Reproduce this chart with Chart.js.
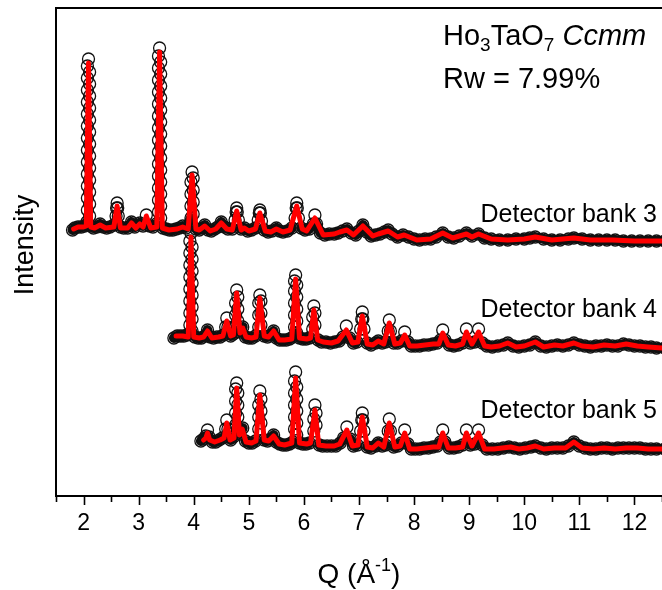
<!DOCTYPE html>
<html><head><meta charset="utf-8">
<script src="https://cdn.jsdelivr.net/npm/chart.js@4/dist/chart.umd.min.js"></script>
<style>html,body{margin:0;padding:0;background:#fff;}canvas{display:block}</style>
</head><body>
<canvas id="c" width="662" height="590"></canvas>
<script>
// ---- data (Q in 1/Å, intensity in arbitrary units above each bank's offset) ----
const xMajorTicks = [2,3,4,5,6,7,8,9,10,11,12];
const bankNames = ['Detector bank 3','Detector bank 4','Detector bank 5'];
const bankOffsets = [250,145,45];

const obs3 = [[1.80,16],[1.84,18],[1.90,19],[1.96,19],[2.02,20],[2.06,24],
[2.07,36],[2.07,48],[2.07,60],[2.07,72],[2.07,84],[2.07,96],[2.07,108],[2.07,120],[2.07,132],[2.07,144],[2.07,156],[2.07,168],[2.07,180],
[2.09,187],
[2.11,174],[2.11,162],[2.11,150],[2.11,138],[2.11,126],[2.11,114],[2.11,102],[2.11,90],[2.11,78],[2.11,66],[2.11,54],[2.11,42],[2.11,30],
[2.13,20],[2.18,18],[2.24,19],[2.30,22],[2.36,19],[2.42,18],[2.48,19],[2.55,21],
[2.59,30],[2.60,38],[2.61,43],[2.62,38],[2.63,30],
[2.67,19],[2.73,18],[2.80,18],[2.87,24],[2.93,19],[3.02,23],[3.08,20],[3.14,31],[3.20,20],[3.26,19],[3.32,22],
[3.36,34],[3.36,46],[3.36,58],[3.36,70],[3.36,82],[3.36,94],[3.36,106],[3.36,118],[3.36,130],[3.36,142],[3.36,154],[3.36,166],[3.36,178],[3.36,190],
[3.38,198],
[3.40,184],[3.40,172],[3.40,160],[3.40,148],[3.40,136],[3.40,124],[3.40,112],[3.40,100],[3.40,88],[3.40,76],[3.40,64],[3.40,52],[3.40,40],[3.40,28],
[3.44,18],[3.50,17],[3.56,16],[3.62,16],[3.68,17],[3.74,18],[3.80,20],[3.86,18],
[3.95,28],[3.95,40],[3.95,52],[3.95,64],[3.97,74],[3.99,68],[3.99,56],[3.99,44],[3.99,32],
[4.04,17],[4.10,16],[4.16,18],[4.20,21],[4.26,16],[4.32,15],[4.38,17],[4.44,19],[4.50,24],[4.56,19],[4.62,17],[4.70,17],
[4.75,26],[4.77,34],[4.78,38],[4.79,34],[4.81,26],
[4.86,17],[4.92,18],[4.98,15],[5.05,16],[5.12,18],
[5.17,26],[5.19,33],[5.20,36],[5.21,33],[5.23,25],
[5.28,16],[5.35,14],[5.42,15],[5.50,18],[5.56,15],[5.62,14],[5.70,15],[5.78,18],
[5.84,28],[5.86,38],[5.87,43],[5.88,38],[5.90,28],
[5.95,18],[6.02,16],[6.10,17],
[6.17,22],[6.20,31],[6.23,22],
[6.30,13],[6.38,11],[6.46,12],[6.55,12],[6.62,13],[6.70,15],[6.78,17],[6.86,13],[6.94,11],[7.00,15],[7.07,21],[7.14,14],[7.22,10],[7.30,11],[7.38,12],[7.46,14],[7.53,16],[7.60,12],[7.70,9],[7.80,11],[7.90,9],[8.00,7],[8.10,6],[8.20,7],[8.30,7],[8.40,9],[8.52,13],[8.62,9],[8.72,8],[8.82,10],[8.95,13],[9.05,10],[9.17,12],[9.28,8],[9.40,7],[9.55,6],[9.70,6],[9.85,7],[10.0,7],[10.1,8],[10.2,9],[10.35,7],[10.5,6],[10.65,6],[10.8,7],[10.9,8],[11.05,7],[11.2,6],[11.35,6],[11.5,6],[11.65,6],[11.8,5],[11.95,5],[12.1,5],[12.25,5],[12.4,5],[12.55,5]];

const calc3 = [[1.82,17],[1.90,19],[2.00,19],[2.05,20],[2.09,183],[2.13,19],[2.20,18],[2.30,21],[2.40,18],[2.55,19],[2.61,40],[2.67,18],[2.80,18],[2.87,23],[2.95,18],[3.02,22],[3.08,19],[3.14,30],[3.22,18],[3.33,19],[3.38,194],[3.43,18],[3.55,16],[3.70,17],[3.80,19],[3.90,17],[3.97,71],[4.04,17],[4.10,16],[4.20,20],[4.30,15],[4.40,17],[4.50,23],[4.60,17],[4.70,16],[4.78,35],[4.86,16],[4.92,18],[5.00,15],[5.12,17],[5.20,33],[5.30,15],[5.40,14],[5.50,17],[5.62,14],[5.75,16],[5.87,40],[5.97,17],[6.05,15],[6.20,28],[6.35,11],[6.55,12],[6.65,14],[6.78,16],[6.90,11],[7.07,20],[7.25,10],[7.35,12],[7.53,15],[7.70,9],[7.82,11],[8.05,6],[8.30,7],[8.52,13],[8.70,8],[8.95,12],[9.05,9],[9.17,12],[9.40,7],[9.70,6],[10.0,7],[10.2,9],[10.5,6],[10.9,8],[11.2,6],[11.6,6],[12.0,5],[12.5,5]];

const obs4 = [[3.64,13],[3.70,15],[3.76,15],[3.82,15],[3.88,16],
[3.93,26],[3.93,38],[3.93,50],[3.93,62],[3.93,74],[3.93,86],[3.93,98],[3.93,110],[3.95,118],[3.97,104],[3.97,92],[3.97,80],[3.97,68],[3.97,56],[3.97,44],[3.97,32],[3.97,20],
[4.02,14],[4.08,13],[4.14,13],[4.20,15],[4.25,21],[4.30,14],[4.36,13],[4.42,14],[4.48,14],[4.54,16],
[4.58,24],[4.60,33],[4.62,24],
[4.67,15],[4.72,17],
[4.76,24],[4.76,36],[4.76,48],[4.78,61],[4.80,54],[4.80,42],[4.80,30],
[4.84,19],[4.89,24],[4.94,14],[5.00,13],[5.06,13],[5.12,15],
[5.18,24],[5.18,36],[5.18,48],[5.20,56],[5.22,50],[5.22,38],[5.22,26],
[5.28,15],[5.34,14],[5.40,16],[5.45,20],[5.50,13],[5.56,11],[5.62,11],[5.68,11],[5.74,12],[5.80,14],
[5.83,24],[5.83,36],[5.83,48],[5.83,60],[5.83,70],[5.85,76],[5.87,66],[5.87,54],[5.87,42],[5.87,30],[5.87,18],
[5.92,13],[5.98,12],[6.04,12],[6.10,13],
[6.16,22],[6.16,34],[6.18,45],[6.20,38],[6.20,26],
[6.26,11],[6.32,9],[6.40,9],[6.48,8],[6.56,9],[6.64,10],[6.71,14],[6.77,25],[6.83,13],[6.90,8],[6.96,9],
[7.03,22],[7.05,32],[7.06,39],[7.07,32],[7.09,22],
[7.15,8],[7.22,6],[7.30,8],[7.35,10],[7.42,8],[7.48,9],
[7.53,20],[7.55,31],[7.57,20],
[7.63,8],[7.70,8],[7.77,10],[7.83,19],[7.89,9],[7.95,5],[8.02,5],[8.10,5],[8.18,6],[8.26,6],[8.34,7],[8.42,8],[8.48,11],[8.52,21],[8.56,11],[8.64,6],[8.72,5],[8.80,6],[8.88,8],[8.95,22],[9.02,8],[9.10,9],[9.17,22],[9.24,8],[9.32,5],[9.42,4],[9.52,5],[9.62,6],[9.70,8],[9.80,5],[9.90,4],[10.0,5],[10.1,6],[10.2,9],[10.3,5],[10.4,4],[10.5,5],[10.6,6],[10.7,5],[10.8,6],[10.9,8],[11.0,6],[11.1,5],[11.2,4],[11.3,5],[11.4,5],[11.5,6],[11.6,5],[11.7,5],[11.8,7],[11.9,6],[12.0,5],[12.1,5],[12.2,4],[12.3,4],[12.4,3],[12.55,3]];

const calc4 = [[3.68,15],[3.80,15],[3.90,14],[3.95,114],[4.00,14],[4.10,13],[4.18,14],[4.25,20],[4.33,13],[4.45,14],[4.53,15],[4.60,30],[4.67,15],[4.72,16],[4.78,58],[4.84,18],[4.89,23],[4.95,14],[5.05,13],[5.13,14],[5.20,53],[5.28,15],[5.36,14],[5.45,20],[5.55,11],[5.65,11],[5.78,12],[5.85,72],[5.92,13],[6.05,12],[6.12,13],[6.18,41],[6.25,11],[6.35,9],[6.50,8],[6.62,10],[6.77,21],[6.88,8],[6.98,9],[7.06,35],[7.15,7],[7.25,6],[7.35,10],[7.45,7],[7.55,28],[7.65,7],[7.75,8],[7.83,16],[7.92,5],[8.05,5],[8.20,6],[8.35,7],[8.45,7],[8.52,18],[8.62,6],[8.75,5],[8.88,7],[8.95,19],[9.05,7],[9.17,19],[9.28,5],[9.40,4],[9.55,5],[9.70,8],[9.85,4],[10.0,5],[10.2,9],[10.35,4],[10.55,6],[10.7,5],[10.9,8],[11.05,5],[11.25,4],[11.45,6],[11.65,5],[11.85,7],[12.05,5],[12.25,4],[12.5,3]];

const obs5 = [[4.13,10],[4.18,12],[4.22,15],[4.25,21],[4.28,14],[4.34,9],[4.40,9],[4.46,11],[4.52,13],
[4.58,22],[4.60,31],[4.62,22],
[4.67,11],[4.72,14],
[4.76,26],[4.76,38],[4.76,50],[4.76,62],[4.78,68],[4.80,58],[4.80,46],[4.80,34],[4.80,22],
[4.84,17],[4.89,23],[4.94,10],[5.00,8],[5.06,8],[5.12,10],
[5.18,22],[5.18,34],[5.18,46],[5.20,60],[5.22,52],[5.22,40],[5.22,28],
[5.28,11],[5.34,10],[5.40,12],[5.45,16],[5.50,9],[5.56,7],[5.62,6],[5.68,6],[5.74,7],[5.80,9],
[5.83,22],[5.83,34],[5.83,46],[5.83,58],[5.83,70],[5.85,79],[5.87,64],[5.87,52],[5.87,40],[5.87,28],[5.87,16],
[5.92,8],[5.98,7],[6.04,7],[6.10,8],
[6.18,20],[6.18,32],[6.20,46],[6.22,38],[6.22,26],
[6.28,6],[6.34,5],[6.42,5],[6.50,5],[6.58,5],[6.66,8],[6.72,13],[6.78,24],[6.84,12],[6.90,5],[6.97,6],
[7.03,20],[7.05,31],[7.06,38],[7.07,31],[7.09,20],
[7.15,4],[7.22,3],[7.30,5],[7.35,8],[7.42,5],[7.48,6],
[7.53,20],[7.55,32],[7.57,20],
[7.63,4],[7.70,5],[7.77,8],[7.83,21],[7.89,7],[7.95,2],[8.02,2],[8.10,2],[8.18,3],[8.26,3],[8.34,4],[8.42,5],[8.48,9],[8.52,21],[8.56,9],[8.64,3],[8.72,3],[8.80,4],[8.88,6],[8.95,21],[9.02,6],[9.10,7],[9.17,21],[9.24,6],[9.32,2],[9.42,2],[9.52,2],[9.62,3],[9.72,4],[9.82,3],[9.92,2],[10.02,3],[10.12,4],[10.2,5],[10.3,3],[10.4,2],[10.5,3],[10.6,3],[10.7,3],[10.8,5],[10.9,9],[11.0,5],[11.1,3],[11.2,2],[11.3,2],[11.4,3],[11.5,3],[11.6,2],[11.7,3],[11.8,3],[11.9,3],[12.0,3],[12.1,3],[12.2,2],[12.3,2],[12.4,2],[12.55,2]];

const calc5 = [[4.18,11],[4.22,13],[4.25,18],[4.29,11],[4.38,9],[4.48,11],[4.55,13],[4.60,28],[4.66,11],[4.73,13],[4.78,63],[4.83,16],[4.88,22],[4.95,9],[5.05,8],[5.13,10],[5.20,56],[5.28,11],[5.36,10],[5.45,15],[5.55,7],[5.65,6],[5.78,8],[5.85,73],[5.92,8],[6.05,7],[6.12,8],[6.20,41],[6.27,6],[6.40,5],[6.55,5],[6.65,7],[6.78,21],[6.88,5],[6.98,6],[7.06,34],[7.15,4],[7.25,3],[7.35,8],[7.45,4],[7.55,28],[7.65,4],[7.75,5],[7.83,18],[7.92,2],[8.05,2],[8.20,3],[8.35,4],[8.45,4],[8.52,18],[8.62,3],[8.75,3],[8.88,4],[8.95,18],[9.05,5],[9.17,18],[9.28,2],[9.45,2],[9.60,3],[9.75,4],[9.90,2],[10.05,3],[10.2,5],[10.35,2],[10.55,3],[10.75,3],[10.9,9],[11.05,3],[11.25,2],[11.45,3],[11.65,2],[11.85,3],[12.05,3],[12.25,2],[12.5,2]];

// ---- build datasets ----
const FONT = "'Liberation Sans', Arial, Helvetica, sans-serif";
function toPts(arr, off){ return arr.map(p => ({x:p[0], y:p[1]+off})); }
const obsSets = [obs3, obs4, obs5];
const calcSets = [calc3, calc4, calc5];
const datasets = [];
for (let i = 0; i < 3; i++) {
  datasets.push({
    label: 'calc ' + bankNames[i], data: toPts(calcSets[i], bankOffsets[i]),
    borderColor: '#ff0000', borderWidth: 5, pointRadius: 0, order: 0,
    borderJoinStyle: 'round', borderCapStyle: 'round', tension: 0
  });
  datasets.push({
    label: 'obs ' + bankNames[i], data: toPts(obsSets[i], bankOffsets[i]),
    borderColor: '#111', borderWidth: 10, order: 1, tension: 0,
    borderJoinStyle: 'round', borderCapStyle: 'round',
    segment: {
      borderColor: ctx => {
        const dx = Math.abs(ctx.p1.x - ctx.p0.x), dy = Math.abs(ctx.p1.y - ctx.p0.y);
        return dy > 2.5 * dx ? 'rgba(0,0,0,0)' : '#111';
      }
    },
    pointRadius: 6, pointBorderWidth: 1.3, pointBorderColor: '#111',
    pointBackgroundColor: 'rgba(255,255,255,0)', pointStyle: 'circle'
  });
}

const decor = {
  id: 'decor',
  afterDraw(chart) {
    const {ctx, chartArea: a, scales: {x}} = chart;
    ctx.save();
    ctx.strokeStyle = '#000';
    ctx.lineWidth = 2;
    ctx.beginPath(); ctx.moveTo(a.left - 1, a.top); ctx.lineTo(a.right + 2, a.top); ctx.stroke();
    // tick marks (major every 1, minor every 0.5)
    ctx.lineWidth = 1.6;
    x.ticks.forEach(t => {
      const px = Math.round(x.getPixelForValue(t.value)) + 0.5;
      const major = Math.abs(t.value - Math.round(t.value)) < 1e-6;
      ctx.beginPath(); ctx.moveTo(px, a.bottom); ctx.lineTo(px, a.bottom + (major ? 9 : 6)); ctx.stroke();
    });
    ctx.fillStyle = '#000';
    // x title with superscript
    ctx.textBaseline = 'alphabetic';
    ctx.textAlign = 'left';
    const big = '28px ' + FONT, sup = '18px ' + FONT;
    ctx.font = big; const w1 = ctx.measureText('Q (Å').width; const w3 = ctx.measureText(')').width;
    ctx.font = sup; const w2 = ctx.measureText('-1').width;
    let sx = 359 - (w1 + w2 + w3) / 2, by = 583;
    ctx.font = big; ctx.fillText('Q (Å', sx, by); sx += w1;
    ctx.font = sup; ctx.fillText('-1', sx, by - 12); sx += w2;
    ctx.font = big; ctx.fillText(')', sx, by);
    // y title
    ctx.save();
    ctx.translate(33, 245); ctx.rotate(-Math.PI / 2);
    ctx.font = '27px ' + FONT; ctx.textAlign = 'center';
    ctx.fillText('Intensity', 0, 0);
    ctx.restore();
    // compound label
    const f29 = '29px ' + FONT, f19 = '19px ' + FONT;
    let lx = 443;
    const parts = [['Ho', f29, 45], ['3', f19, 51], ['TaO', f29, 45], ['7', f19, 51], [' ', f29, 45], ['Ccmm', 'italic ' + f29, 45]];
    parts.forEach(p => { ctx.font = p[1]; ctx.fillText(p[0], lx, p[2]); lx += ctx.measureText(p[0]).width; });
    ctx.font = f29; ctx.fillText('Rw = 7.99%', 443, 88);
    // bank labels
    ctx.font = '25px ' + FONT; ctx.textAlign = 'right';
    const labelY = [222, 317, 418];
    bankNames.forEach((n, i) => ctx.fillText(n, 657, labelY[i]));
    ctx.restore();
  }
};

new Chart(document.getElementById('c'), {
  type: 'line',
  data: { datasets },
  plugins: [decor],
  options: {
    responsive: false, animation: false, devicePixelRatio: 1,
    parsing: false, normalized: true,
    layout: { autoPadding: false, padding: { top: 8, left: 0, right: 0, bottom: 0 } },
    plugins: { legend: { display: false }, tooltip: { enabled: false } },
    scales: {
      x: {
        type: 'linear', min: 1.5, max: 12.5,
        afterFit: s => { s.height = 94; s.paddingLeft = 0; s.paddingRight = 0; },
        grid: { display: true, drawOnChartArea: false, drawTicks: true, tickLength: 9, tickColor: 'rgba(0,0,0,0)' },
        border: { display: true, color: '#000', width: 2 },
        ticks: {
          stepSize: 0.5, autoSkip: false, maxRotation: 0, padding: 5, color: '#000',
          font: { family: FONT, size: 23 },
          callback: v => xMajorTicks.includes(v) ? String(v) : ''
        }
      },
      y: {
        type: 'linear', min: 0, max: 488,
        afterFit: s => { s.width = 56; s.paddingTop = 0; s.paddingBottom = 0; },
        grid: { display: false },
        border: { display: true, color: '#000', width: 2 },
        ticks: { display: false }
      }
    }
  }
});
</script>
</body></html>
